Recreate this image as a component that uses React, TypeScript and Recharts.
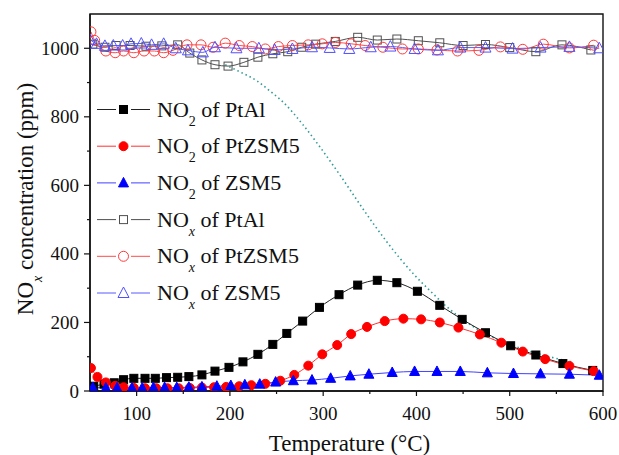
import React from 'react';
import { LineChart, Line, XAxis, YAxis, ReferenceArea } from 'recharts';

// ---------- data (temperature °C, concentration ppm) ----------
const no2PtAl: number[][] = [
  [54, 14], [65, 20], [76, 24], [86, 33], [97, 37], [109, 37], [120, 37], [132, 39], [144, 40],
  [156, 42], [170, 47], [184, 58], [199, 69], [214, 85], [230, 107], [246, 136], [261, 168],
  [278, 204], [296, 244], [317, 281], [337, 309], [358, 323], [379, 316], [401, 291], [425, 250],
  [449, 209], [474, 170], [501, 132], [528, 105], [557, 80], [589, 60],
];
const no2PtZSM5: number[][] = [
  [51, 67], [58, 41], [67, 25], [77, 15], [86, 11], [97, 9], [109, 8], [121, 8], [133, 8],
  [145, 8], [157, 9], [170, 10], [183, 11], [196, 12], [210, 14], [223, 17], [238, 21], [254, 30],
  [269, 47], [284, 74], [299, 107], [315, 134], [330, 166], [347, 187], [366, 204], [386, 211],
  [405, 209], [425, 200], [445, 185], [468, 165], [491, 141], [514, 115], [538, 93], [564, 73],
  [590, 58],
];
const no2ZSM5: number[][] = [
  [53, 10], [67, 9], [79, 9], [95, 9], [106, 9], [118, 10], [130, 10], [143, 10], [156, 11],
  [170, 12], [186, 14], [201, 16], [216, 18], [232, 20], [249, 26], [268, 30], [288, 32],
  [308, 37], [329, 44], [349, 49], [374, 54], [398, 57], [422, 57], [447, 57], [476, 53],
  [504, 51], [533, 50], [564, 49], [596, 46],
];
const noxPtAl: number[][] = [
  [53, 1012], [66, 1003], [78, 1008], [93, 1008], [110, 1006], [127, 1007], [144, 1010],
  [157, 986], [170, 966], [184, 952], [198, 948], [215, 959], [230, 974], [246, 984], [262, 990],
  [277, 1003], [292, 1012], [313, 1020], [337, 1032], [358, 1024], [379, 1027], [402, 1022],
  [425, 1016], [450, 1008], [474, 1011], [500, 1002], [528, 990], [556, 1010], [587, 995],
];
const noxPtZSM5: number[][] = [
  [51, 1048], [55, 1023], [67, 992], [77, 987], [86, 992], [97, 987], [108, 992], [119, 992],
  [129, 987], [139, 994], [154, 1010], [169, 1010], [182, 1003], [195, 1015], [210, 1008],
  [224, 1005], [238, 998], [252, 1005], [267, 1008], [284, 1010], [299, 1013], [313, 1017],
  [330, 1013], [345, 1008], [364, 1003], [385, 998], [402, 998], [422, 995], [444, 992],
  [467, 994], [490, 1004], [514, 997], [536, 1012], [564, 1001], [590, 1009],
];
const noxZSM5: number[][] = [
  [50, 1025], [57, 1013], [66, 1007], [75, 1008], [85, 1008], [94, 1013], [105, 1014],
  [116, 1010], [129, 1013], [142, 1000], [155, 994], [171, 988], [184, 1003], [207, 1000],
  [231, 1000], [248, 995], [267, 998], [288, 1003], [307, 1001], [328, 998], [351, 1003],
  [372, 1005], [398, 998], [423, 994], [447, 1002], [474, 1002], [503, 999], [533, 1002],
  [564, 1004], [596, 1000],
];
const equilibrium: number[][] = [
  [195, 952], [210, 932], [229, 905], [243, 875], [257, 843], [278, 778], [296, 714],
  [318, 630], [336, 558], [352, 495], [368, 436], [382, 388], [398, 338], [414, 294],
  [432, 247], [450, 208], [470, 173], [493, 143], [518, 119], [550, 95], [565, 86],
];

const xTicks = [100, 150, 200, 250, 300, 350, 400, 450, 500, 550, 600];
const yTicks = [0, 100, 200, 300, 400, 500, 600, 700, 800, 900, 1000];

const legendNames = [
  { main: 'NO', sub: '2', rest: ' of PtAl' },
  { main: 'NO', sub: '2', rest: ' of PtZSM5' },
  { main: 'NO', sub: '2', rest: ' of ZSM5' },
  { main: 'NO', sub: 'x', rest: ' of PtAl' },
  { main: 'NO', sub: 'x', rest: ' of PtZSM5' },
  { main: 'NO', sub: 'x', rest: ' of ZSM5' },
];

// ---------- helpers ----------
const toPts = (a: number[][]) => a.map(([t, v]) => ({ t, v }));
const FONT = 'Liberation Serif';

type Shape = 'square' | 'circle' | 'triangle';

function Marker({ cx, cy, shape, filled, color }: { cx: number; cy: number; shape: Shape; filled: boolean; color: string }) {
  const fill = filled ? color : 'none';
  if (shape === 'square') {
    const s = 8;
    return <rect x={cx - s / 2} y={cy - s / 2} width={s} height={s} fill={fill} stroke={color} strokeWidth={1} />;
  }
  if (shape === 'circle') {
    const r = filled ? 4.5 : 5;
    return <circle cx={cx} cy={cy} r={r} fill={fill} stroke={color} strokeWidth={1} />;
  }
  const h = filled ? 5 : 5.5;
  return (
    <polygon
      points={`${cx},${cy - h - 0.5} ${cx - h},${cy + h - 1} ${cx + h},${cy + h - 1}`}
      fill={fill}
      stroke={color}
      strokeWidth={1}
    />
  );
}

const makeDot = (shape: Shape, filled: boolean, color: string) => (props: any) => {
  const { cx, cy, index } = props;
  if (cx == null || cy == null) return <g key={index} />;
  return (
    <g key={index}>
      <Marker cx={cx} cy={cy} shape={shape} filled={filled} color={color} />
    </g>
  );
};

const XTick = (props: any) => {
  const { x, y, payload } = props;
  const v = payload.value;
  const major = v % 100 === 0;
  return (
    <g>
      <line x1={x} x2={x} y1={y} y2={y + (major ? 5 : 3)} stroke="#111" strokeWidth={1.2} />
      {major && (
        <text x={x} y={y + 29} textAnchor="middle" fontFamily={FONT} fontSize={19} fill="#111">
          {v}
        </text>
      )}
    </g>
  );
};

const YTick = (props: any) => {
  const { x, y, payload } = props;
  const v = payload.value;
  const major = v % 200 === 0;
  return (
    <g>
      <line x1={x - (major ? 6 : 3)} x2={x} y1={y} y2={y} stroke="#111" strokeWidth={1.2} />
      {major && (
        <text x={x - 11} y={y + 6.5} textAnchor="end" fontFamily={FONT} fontSize={19} fill="#111">
          {v}
        </text>
      )}
    </g>
  );
};

const YLabel = () => (
  <text
    x={33}
    y={199}
    transform="rotate(-90 33 199)"
    textAnchor="middle"
    fontFamily={FONT}
    fontSize={23}
    fill="#111"
  >
    <tspan>NO</tspan>
    <tspan fontStyle="italic" fontSize={14} dy={9}>x</tspan>
    <tspan dy={-9}> concentration (ppm)</tspan>
  </text>
);

const XLabel = () => (
  <text x={349.5} y={451} textAnchor="middle" fontFamily={FONT} fontSize={23} fill="#111">
    Temperature (°C)
  </text>
);

const series = [
  { key: 'no2PtAl', data: no2PtAl, shape: 'square' as Shape, filled: true, mcol: '#000', lcol: '#222' },
  { key: 'no2PtZSM5', data: no2PtZSM5, shape: 'circle' as Shape, filled: true, mcol: '#ff0000', lcol: '#ff3030' },
  { key: 'no2ZSM5', data: no2ZSM5, shape: 'triangle' as Shape, filled: true, mcol: '#0000ff', lcol: '#4040ff' },
  { key: 'noxPtAl', data: noxPtAl, shape: 'square' as Shape, filled: false, mcol: '#505050', lcol: '#505050' },
  { key: 'noxPtZSM5', data: noxPtZSM5, shape: 'circle' as Shape, filled: false, mcol: '#ff3a3a', lcol: '#ff4a4a' },
  { key: 'noxZSM5', data: noxZSM5, shape: 'triangle' as Shape, filled: false, mcol: '#5050ff', lcol: '#5a5aff' },
];

function LegendOverlay() {
  return (
    <svg width={619} height={455} style={{ position: 'absolute', left: 0, top: 0, pointerEvents: 'none' }}>
      {legendNames.map((n, i) => {
        const s = series[i];
        const cy = 109.5 + i * 36.7;
        const italic = n.sub === 'x';
        return (
          <g key={i}>
            <line x1={97} x2={116} y1={cy} y2={cy} stroke={s.lcol} strokeWidth={1} />
            <line x1={131} x2={150} y1={cy} y2={cy} stroke={s.lcol} strokeWidth={1} />
            <Marker cx={123.5} cy={cy} shape={s.shape} filled={s.filled} color={s.mcol} />
            <text x={157} y={cy + 7} fontFamily={FONT} fontSize={22} fill="#111">
              <tspan>{n.main}</tspan>
              <tspan fontSize={14} dy={9} fontStyle={italic ? 'italic' : 'normal'}>{n.sub}</tspan>
              <tspan dy={-9}>{n.rest}</tspan>
            </text>
          </g>
        );
      })}
    </svg>
  );
}

export default function App() {
  return (
    <div style={{ position: 'absolute', left: 0, top: 0, width: 619, height: 455, background: '#fff' }}>
      <LineChart width={619} height={455} margin={{ top: 14, right: 16, bottom: 0, left: 0 }}>
        <XAxis
          dataKey="t"
          type="number"
          domain={[50, 600]}
          ticks={xTicks}
          interval={0}
          allowDataOverflow
          height={64}
          tickSize={0}
          tickMargin={0}
          tickLine={false}
          axisLine={{ stroke: '#111', strokeWidth: 1.4 }}
          tick={<XTick />}
          label={<XLabel />}
        />
        <YAxis
          type="number"
          domain={[0, 1100]}
          ticks={yTicks}
          interval={0}
          allowDataOverflow
          width={90}
          tickSize={0}
          tickMargin={0}
          tickLine={false}
          axisLine={{ stroke: '#111', strokeWidth: 1.4 }}
          tick={<YTick />}
          label={<YLabel />}
        />
        <ReferenceArea x1={50} x2={600} y1={0} y2={1100} fill="none" stroke="#111" strokeWidth={1.4} />
        <Line
          data={toPts(equilibrium)}
          dataKey="v"
          type="monotone"
          stroke="#2f9a95"
          strokeWidth={1.6}
          strokeDasharray="1.5 3"
          dot={false}
          activeDot={false}
          isAnimationActive={false}
          legendType="none"
        />
        {series.map((s) => (
          <Line
            key={s.key}
            data={toPts(s.data)}
            dataKey="v"
            type="monotone"
            stroke={s.lcol}
            strokeWidth={1}
            dot={makeDot(s.shape, s.filled, s.mcol)}
            activeDot={false}
            isAnimationActive={false}
          />
        ))}
      </LineChart>
      <LegendOverlay />
    </div>
  );
}
